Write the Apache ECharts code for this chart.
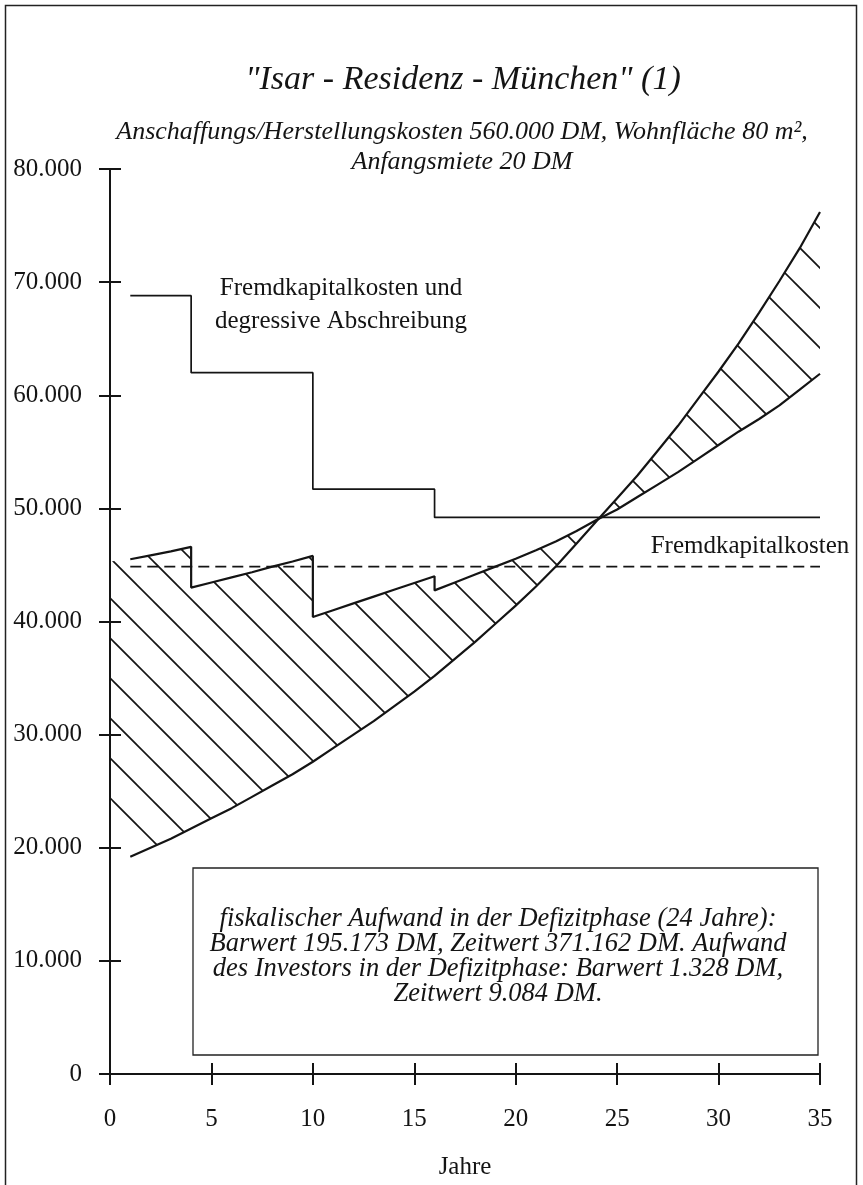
<!DOCTYPE html>
<html>
<head>
<meta charset="utf-8">
<script src="https://cdn.jsdelivr.net/npm/echarts@6/dist/echarts.min.js"></script>
<style>
html,body{margin:0;padding:0;background:#fff;}
#chart{width:863px;height:1185px;}
</style>
</head>
<body>
<div id="chart"></div>
<script>
// ---- data ----
const xTicks = [0, 5, 10, 15, 20, 25, 30, 35];
const yTicks = [0, 10000, 20000, 30000, 40000, 50000, 60000, 70000, 80000];

// Fremdkapitalkosten und degressive Abschreibung (step line)
const stepYears  = [1, 4, 4, 10, 10, 16, 16, 35];
const stepValues = [68800, 68800, 62000, 62000, 51700, 51700, 49200, 49200];

// Fremdkapitalkosten (dashed)
const dashYears  = [1, 35];
const dashValues = [44850, 44850];

// rising curve
const expYears  = [1,2,3,4,5,6,7,8,9,10,11,12,13,14,15,16,17,18,19,20,21,22,23,24,25,26,27,28,29,30,31,32,33,34,35];
const expValues = [19200,20000,20800,21700,22600,23500,24500,25500,26500,27600,28800,30000,31200,32500,33800,35200,36700,38200,39800,41400,43100,44900,46900,48900,50900,52900,55100,57300,59700,62100,64600,67300,70100,73000,76200];

// saw-tooth line (above the curve until year 24, below afterwards)
const jagYears  = [1,2,3,4, 4,5,6,7,8,9,10, 10,11,12,13,14,15,16, 16,17,18,19,20,21,22,23,24,25,26,27,28,29,30,31,32,33,34,35];
const jagValues = [45500,45850,46200,46600, 43000,43450,43900,44350,44850,45300,45800, 40400,41000,41600,42200,42800,43400,44000, 42750,43450,44150,44850,45550,46300,47100,48000,49000,49900,51000,52100,53200,54400,55600,56800,57900,59100,60500,61900];

// left edge of the hatched area at year 0 (upper, lower)
const hatchEdgeYear = 0;
const hatchEdgeValues = [45300, 24500];

const titleText = '"Isar - Residenz - München" (1)';
const subtitleLines = ['Anschaffungs/Herstellungskosten 560.000 DM, Wohnfläche 80 m²,', 'Anfangsmiete 20 DM'];
const boxLines = [
  'fiskalischer Aufwand in der Defizitphase (24 Jahre):',
  'Barwert 195.173 DM, Zeitwert 371.162 DM. Aufwand',
  'des Investors in der Defizitphase: Barwert 1.328 DM,',
  'Zeitwert 9.084 DM.'
];

// ---- rendering ----
const INK = '#141414';
const SERIF = '"Liberation Serif", "Times New Roman", serif';

function makeHatch() {
  const c = document.createElement('canvas');
  c.width = 40; c.height = 40;
  const g = c.getContext('2d');
  g.strokeStyle = INK; g.lineWidth = 1.7;
  [-48, -8, 32].forEach(off => {
    g.beginPath(); g.moveTo(off - 6, -6); g.lineTo(off + 46, 46); g.stroke();
  });
  return c;
}
const hatch = makeHatch();

const pairs = (xs, ys) => xs.map((x, i) => [x, ys[i]]);
const yFmt = v => v === 0 ? '0' : (v / 1000) + '.000';

const baseAxisLine = {show: true, onZero: false, lineStyle: {color: INK, width: 2}};
const tickStyle = {color: INK, width: 2};

const chart = echarts.init(document.getElementById('chart'), null, {renderer: 'canvas'});
const lineSeries = (name, xs, ys, extra) => Object.assign({
  name, type: 'line', data: pairs(xs, ys), showSymbol: false, symbol: 'none',
  silent: true, z: 3, lineStyle: {color: INK, width: 2}
}, extra || {});

chart.setOption({
  animation: false,
  backgroundColor: '#fff',
  grid: {left: 110, right: 43, top: 169, bottom: 111, containLabel: false},
  xAxis: [
    {type: 'value', min: xTicks[0], max: xTicks[xTicks.length - 1], interval: 5, position: 'bottom',
     axisLine: baseAxisLine, axisTick: {show: true, inside: false, length: 11, lineStyle: tickStyle},
     axisLabel: {color: INK, fontFamily: SERIF, fontSize: 25, margin: 33},
     splitLine: {show: false}},
    {type: 'value', min: xTicks[0], max: xTicks[xTicks.length - 1], interval: 5, position: 'bottom',
     axisLine: {show: false, onZero: false}, axisTick: {show: true, inside: true, length: 11, lineStyle: tickStyle},
     axisLabel: {show: false}, splitLine: {show: false}}
  ],
  yAxis: [
    {type: 'value', min: yTicks[0], max: yTicks[yTicks.length - 1], interval: 10000, position: 'left',
     axisLine: baseAxisLine, axisTick: {show: true, inside: false, length: 11, lineStyle: tickStyle},
     axisLabel: {color: INK, fontFamily: SERIF, fontSize: 25, margin: 28, formatter: yFmt},
     splitLine: {show: false}},
    {type: 'value', min: yTicks[0], max: yTicks[yTicks.length - 1], interval: 10000, position: 'left',
     axisLine: {show: false, onZero: false}, axisTick: {show: true, inside: true, length: 11, lineStyle: tickStyle},
     axisLabel: {show: false}, splitLine: {show: false}}
  ],
  series: [
    {
      type: 'custom', coordinateSystem: 'cartesian2d', xAxisIndex: 0, yAxisIndex: 0,
      data: [[0, 0]], silent: true, z: 1, clip: false,
      renderItem: (params, api) => {
        const pts = [api.coord([hatchEdgeYear, hatchEdgeValues[0]])];
        jagYears.forEach((x, i) => pts.push(api.coord([x, jagValues[i]])));
        for (let i = expYears.length - 1; i >= 0; i--) pts.push(api.coord([expYears[i], expValues[i]]));
        pts.push(api.coord([hatchEdgeYear, hatchEdgeValues[1]]));
        return {type: 'polygon', shape: {points: pts},
                style: {fill: {image: hatch, repeat: 'repeat'}, stroke: 'none'}};
      }
    },
    lineSeries('Fremdkapitalkosten und degressive Abschreibung', stepYears, stepValues, {lineStyle: {color: INK, width: 1.7}}),
    lineSeries('Fremdkapitalkosten', dashYears, dashValues, {lineStyle: {color: INK, width: 1.6, type: [11, 6]}}),
    lineSeries('Kurve', expYears, expValues, {lineStyle: {color: INK, width: 2.2}}),
    lineSeries('Saegezahn', jagYears, jagValues, {lineStyle: {color: INK, width: 2.2}})
  ],
  graphic: [
    {type: 'rect', silent: true, z: 0, shape: {x: 5.5, y: 5.5, width: 851, height: 1210},
     style: {fill: 'none', stroke: '#222', lineWidth: 1.5}},
    {type: 'text', silent: true, x: 463, y: 80,
     style: {text: titleText, font: 'italic 34px ' + SERIF, fill: INK, align: 'center', verticalAlign: 'middle'}},
    {type: 'text', silent: true, x: 462, y: 147,
     style: {text: subtitleLines.join('\n'), font: 'italic 26px ' + SERIF, lineHeight: 29.5, fill: INK, align: 'center', verticalAlign: 'middle'}},
    {type: 'text', silent: true, x: 341, y: 305,
     style: {text: 'Fremdkapitalkosten und\ndegressive Abschreibung', font: '25px ' + SERIF, lineHeight: 33, fill: INK, align: 'center', verticalAlign: 'middle'}},
    {type: 'text', silent: true, x: 750, y: 546.5,
     style: {text: 'Fremdkapitalkosten', font: '25px ' + SERIF, fill: INK, align: 'center', verticalAlign: 'middle'}},
    {type: 'rect', silent: true, z: 5, shape: {x: 193, y: 868, width: 625, height: 187},
     style: {fill: '#fff', stroke: '#222', lineWidth: 1.3}},
    {type: 'text', silent: true, z: 6, x: 498, y: 957,
     style: {text: boxLines.join('\n'), font: 'italic 26.5px ' + SERIF, lineHeight: 25, fill: INK, align: 'center', verticalAlign: 'middle'}},
    {type: 'text', silent: true, x: 465, y: 1167,
     style: {text: 'Jahre', font: '25px ' + SERIF, fill: INK, align: 'center', verticalAlign: 'middle'}}
  ]
});
</script>
</body>
</html>
